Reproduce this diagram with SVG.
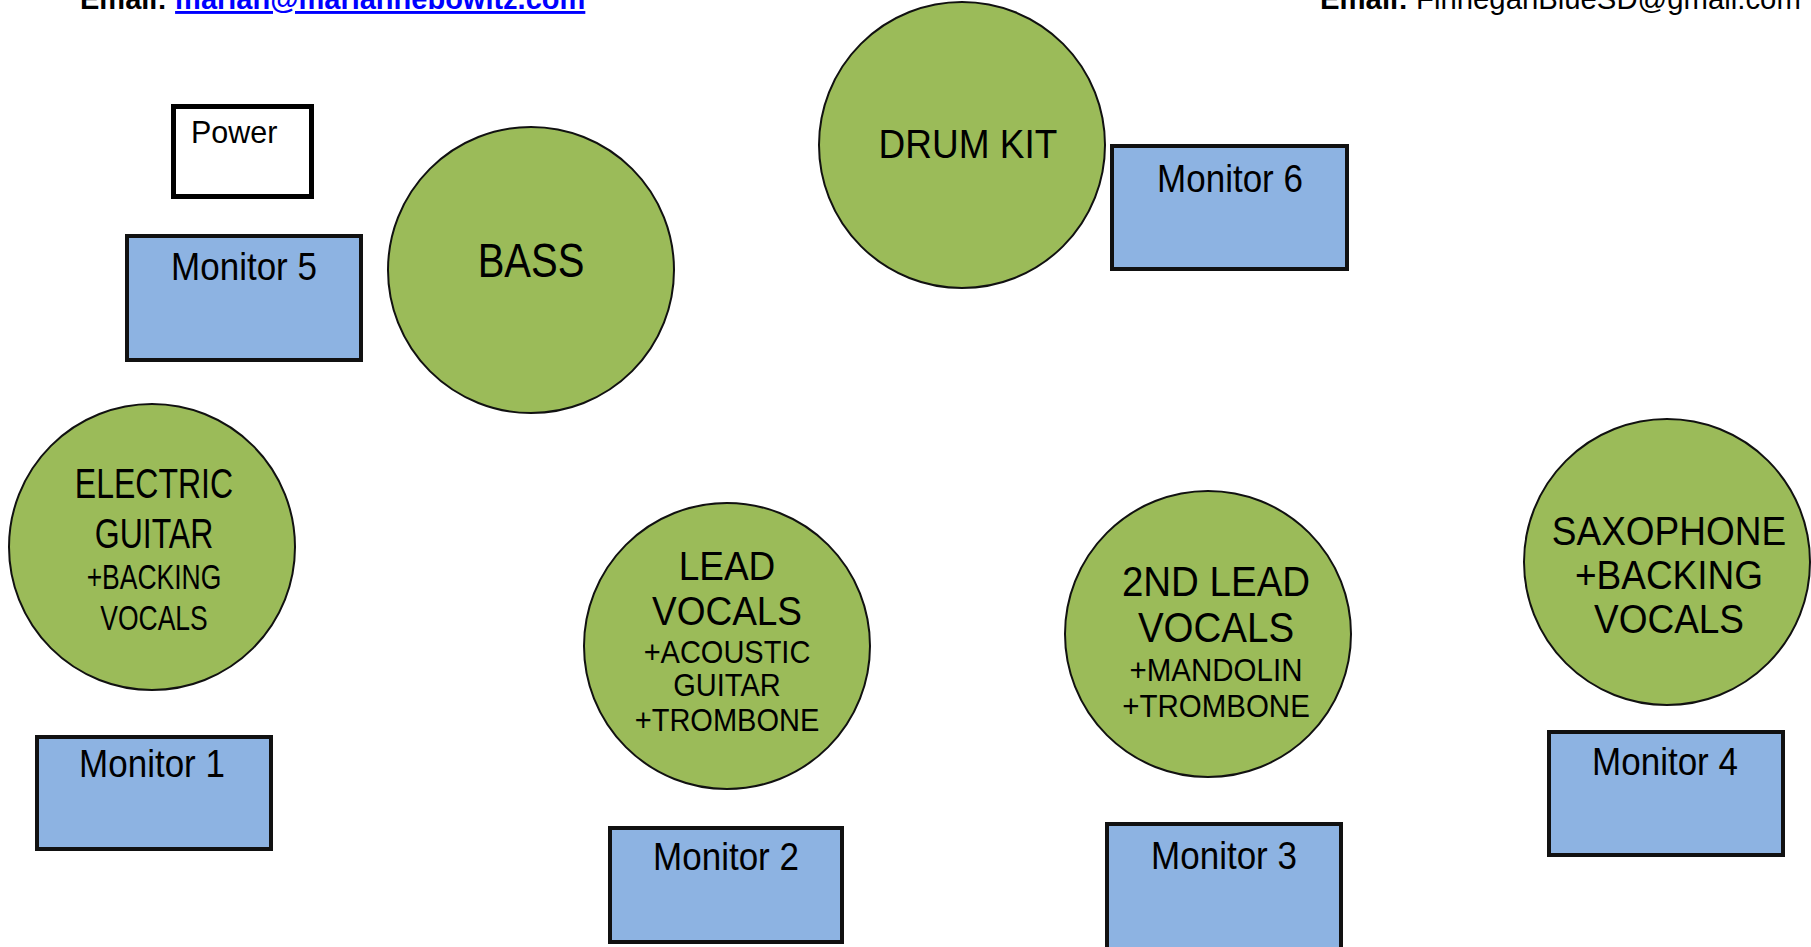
<svg xmlns="http://www.w3.org/2000/svg" width="1811" height="947" viewBox="0 0 1811 947">
<style>
text{font-family:"Liberation Sans",Arial,sans-serif;fill:#000}
.c{fill:#9BBB59;stroke:#111;stroke-width:2}
.m{fill:#8DB3E2;stroke:#111;stroke-width:4}
.p{fill:#fff;stroke:#000;stroke-width:5}
.mt{font-size:35px;text-anchor:middle}
.ct{text-anchor:middle}
.b{font-weight:bold}
.lk{fill:#0000FF;text-decoration:underline}
</style>
<rect width="1811" height="947" fill="#fff"/>
<g id="header">
<text x="80" y="9" font-size="29" class="b">Email: <tspan class="lk">marian@mariannebowitz.com</tspan></text>
<text x="1320" y="9" font-size="29.3"><tspan class="b">Email:</tspan> FinneganBlueSD@gmail.com</text>
</g>
<g id="connectors"></g>
<g id="power">
<rect class="p" x="173.5" y="106.5" width="138" height="90"/>
<text x="191" y="143" font-size="30.5">Power</text>
</g>
<g id="monitor5">
<rect class="m" x="127" y="236" width="234" height="124"/>
<text class="mt" transform="translate(244,280) scale(1,1.1)">Monitor 5</text>
</g>
<g id="bass">
<circle class="c" cx="531" cy="270" r="143"/>
<text class="ct" font-size="40" transform="translate(531,277) scale(1,1.2)">BASS</text>
</g>
<g id="drumkit">
<circle class="c" cx="962" cy="145" r="143"/>
<text class="ct" font-size="37" transform="translate(968,158) scale(1,1.12)">DRUM KIT</text>
</g>
<g id="monitor6">
<rect class="m" x="1112" y="146" width="235" height="123"/>
<text class="mt" transform="translate(1230,192) scale(1,1.1)">Monitor 6</text>
</g>
<g id="electric">
<circle class="c" cx="152" cy="547" r="143"/>
<text class="ct" font-size="32" transform="translate(154,498) scale(1,1.3)">ELECTRIC</text>
<text class="ct" font-size="32" transform="translate(154,548) scale(1,1.3)">GUITAR</text>
<text class="ct" font-size="26.5" transform="translate(154,589) scale(1,1.3)">+BACKING</text>
<text class="ct" font-size="26.5" transform="translate(154,630) scale(1,1.3)">VOCALS</text>
</g>
<g id="monitor1">
<rect class="m" x="37" y="737" width="234" height="112"/>
<text class="mt" transform="translate(152,777) scale(1,1.1)">Monitor 1</text>
</g>
<g id="lead">
<circle class="c" cx="727" cy="646" r="143"/>
<text class="ct" font-size="37" transform="translate(727,580) scale(1,1.08)">LEAD</text>
<text class="ct" font-size="37" transform="translate(727,625) scale(1,1.08)">VOCALS</text>
<text class="ct" font-size="29" transform="translate(727,663) scale(1,1.08)">+ACOUSTIC</text>
<text class="ct" font-size="29" transform="translate(727,696) scale(1,1.08)">GUITAR</text>
<text class="ct" font-size="29" transform="translate(727,731) scale(1,1.08)">+TROMBONE</text>
</g>
<g id="monitor2">
<rect class="m" x="610" y="828" width="232" height="114"/>
<text class="mt" transform="translate(726,870) scale(1,1.1)">Monitor 2</text>
</g>
<g id="lead2">
<circle class="c" cx="1208" cy="634" r="143"/>
<text class="ct" font-size="38.5" transform="translate(1216,596) scale(1,1.08)">2ND LEAD</text>
<text class="ct" font-size="38.5" transform="translate(1216,642) scale(1,1.08)">VOCALS</text>
<text class="ct" font-size="29.5" transform="translate(1216,681) scale(1,1.08)">+MANDOLIN</text>
<text class="ct" font-size="29.5" transform="translate(1216,717) scale(1,1.08)">+TROMBONE</text>
</g>
<g id="monitor3">
<rect class="m" x="1107" y="824" width="234" height="130"/>
<text class="mt" transform="translate(1224,869) scale(1,1.1)">Monitor 3</text>
</g>
<g id="sax">
<circle class="c" cx="1667" cy="562" r="143"/>
<text class="ct" font-size="37" transform="translate(1669,545) scale(1,1.08)">SAXOPHONE</text>
<text class="ct" font-size="37" transform="translate(1669,589) scale(1,1.08)">+BACKING</text>
<text class="ct" font-size="37" transform="translate(1669,633) scale(1,1.08)">VOCALS</text>
</g>
<g id="monitor4">
<rect class="m" x="1549" y="732" width="234" height="123"/>
<text class="mt" transform="translate(1665,775) scale(1,1.1)">Monitor 4</text>
</g>
</svg>
